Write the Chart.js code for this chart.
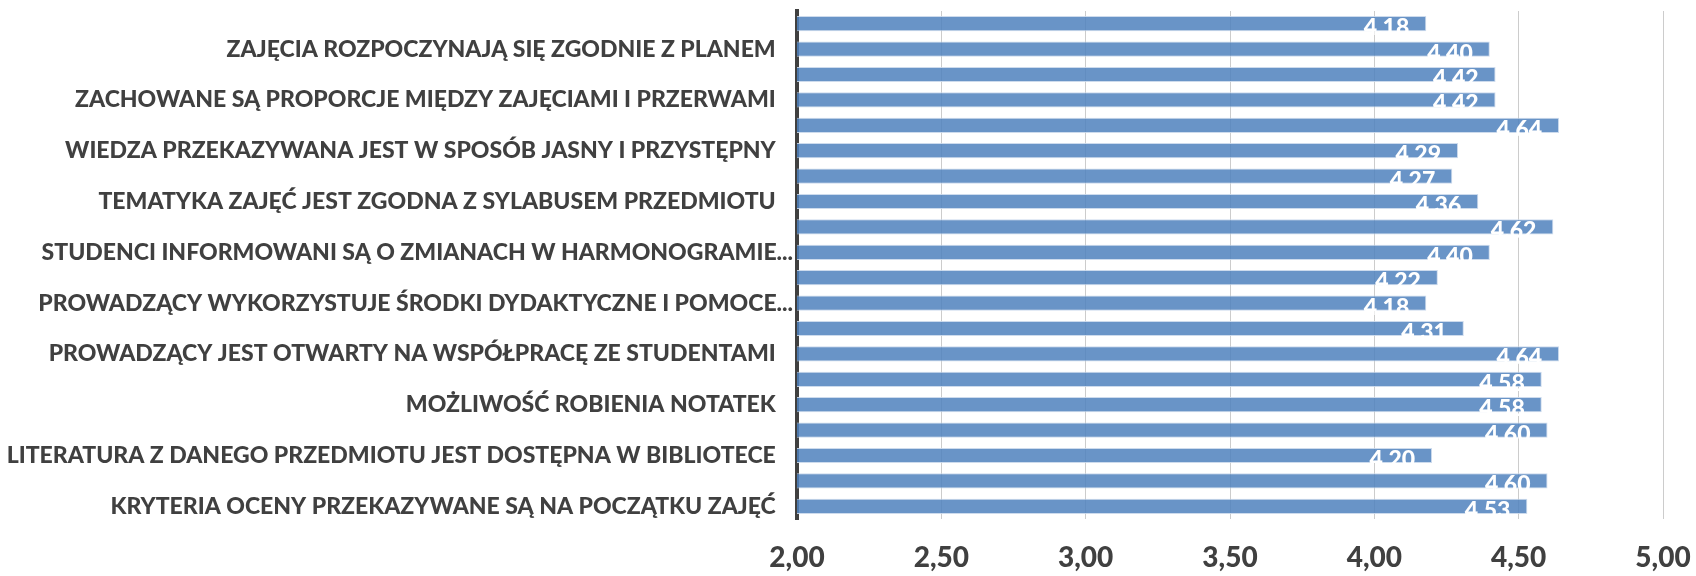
<!DOCTYPE html>
<html>
<head>
<meta charset="utf-8">
<script src="https://cdn.jsdelivr.net/npm/chart.js@4/dist/chart.umd.min.js"></script>
<style>
  html, body { margin: 0; padding: 0; background: #ffffff; }
  #wrap { width: 1696px; height: 576px; position: relative; }
</style>
</head>
<body>
<div id="wrap"><canvas id="c" width="1696" height="576"></canvas></div>
<script>
const categories = [
  '',
  'ZAJĘCIA ROZPOCZYNAJĄ SIĘ ZGODNIE Z PLANEM',
  '',
  'ZACHOWANE SĄ PROPORCJE MIĘDZY ZAJĘCIAMI I PRZERWAMI',
  '',
  'WIEDZA PRZEKAZYWANA JEST W SPOSÓB JASNY I PRZYSTĘPNY',
  '',
  'TEMATYKA ZAJĘĆ JEST ZGODNA Z SYLABUSEM PRZEDMIOTU',
  '',
  'STUDENCI INFORMOWANI SĄ O ZMIANACH W HARMONOGRAMIE...',
  '',
  'PROWADZĄCY WYKORZYSTUJE ŚRODKI DYDAKTYCZNE I POMOCE...',
  '',
  'PROWADZĄCY JEST OTWARTY NA WSPÓŁPRACĘ ZE STUDENTAMI',
  '',
  'MOŻLIWOŚĆ ROBIENIA NOTATEK',
  '',
  'LITERATURA Z DANEGO PRZEDMIOTU JEST DOSTĘPNA W BIBLIOTECE',
  '',
  'KRYTERIA OCENY PRZEKAZYWANE SĄ NA POCZĄTKU ZAJĘĆ'
];
const values = [4.18, 4.40, 4.42, 4.42, 4.64, 4.29, 4.27, 4.36, 4.62, 4.40,
                4.22, 4.18, 4.31, 4.64, 4.58, 4.58, 4.60, 4.20, 4.60, 4.53];
const xMin = 2, xMax = 5, xStep = 0.5;

const valueLabels = {
  id: 'valueLabels',
  afterDatasetsDraw(chart) {
    const ctx = chart.ctx;
    const meta = chart.getDatasetMeta(0);
    ctx.save();
    ctx.font = '900 23px Lato';
    ctx.fillStyle = '#ffffff';
    ctx.textAlign = 'right';
    ctx.textBaseline = 'middle';
    meta.data.forEach((el, i) => {
      ctx.fillText(values[i].toFixed(2), el.x - 17, el.y + 4);
    });
    ctx.restore();
  }
};

new Chart(document.getElementById('c'), {
  type: 'bar',
  data: {
    labels: categories,
    datasets: [{
      data: values,
      backgroundColor: 'rgba(79,129,189,0.85)',
      borderColor: 'rgba(200,215,235,0.9)',
      borderWidth: 1,
      categoryPercentage: 1,
      barPercentage: 0.6
    }]
  },
  options: {
    indexAxis: 'y',
    responsive: false,
    animation: false,
    layout: { padding: { top: 11, right: 33, left: 0, bottom: 0 } },
    plugins: { legend: { display: false }, tooltip: { enabled: false } },
    scales: {
      x: {
        min: xMin, max: xMax,
        ticks: {
          stepSize: xStep,
          color: '#404040',
          font: { family: 'Lato', weight: '900', size: 28 },
          padding: 22,
          callback: v => Number(v).toFixed(2).replace('.', ',')
        },
        grid: { color: '#cccccc', lineWidth: 1, drawTicks: false },
        border: { display: false },
        afterFit: s => { s.height = 57; s.paddingLeft = 0; s.paddingRight = 0; }
      },
      y: {
        ticks: {
          autoSkip: false,
          color: '#404040',
          font: { family: 'Lato', weight: '900', size: 23 },
          padding: 4,
          callback: function(v, i) {
            const l = categories[i];
            if (!l) return '';
            return l.endsWith('...') ? l : l + '\u2003';
          }
        },
        grid: { display: false, drawTicks: false },
        border: { display: true, color: '#404040', width: 4 },
        afterFit: s => { s.width = 797; s.paddingTop = 0; s.paddingBottom = 0; }
      }
    }
  },
  plugins: [valueLabels]
});
</script>
</body>
</html>
